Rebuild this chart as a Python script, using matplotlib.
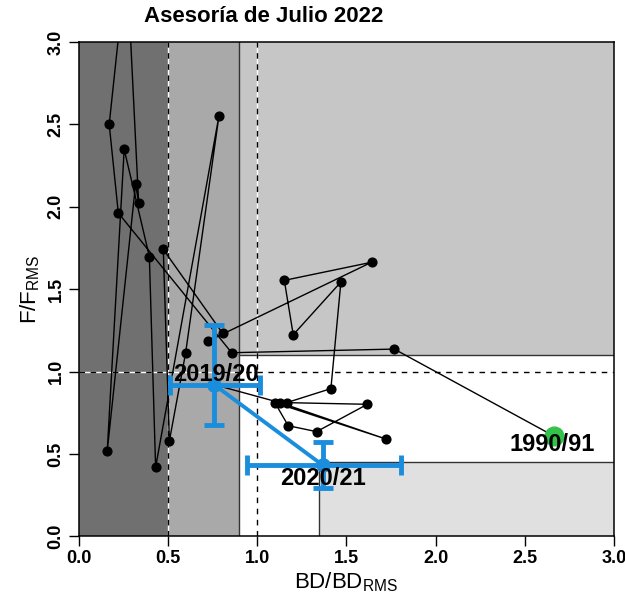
import matplotlib
matplotlib.use('Agg')
import matplotlib.pyplot as plt
from matplotlib.patches import Rectangle

plt.rcParams['font.family'] = ['Liberation Sans', 'DejaVu Sans']
plt.rcParams['mathtext.fontset'] = 'custom'
plt.rcParams['mathtext.rm'] = 'Liberation Sans'
plt.rcParams['mathtext.it'] = 'Liberation Sans:italic'
plt.rcParams['mathtext.bf'] = 'Liberation Sans:bold'

# ---- data: trajectory 1990/91 ... 2019/20 (BD/BDrms, F/Frms) ----
bd_ratio = [2.664, 1.769, 0.858, 0.223, 0.172, 0.270, 0.337, 0.320, 0.161, 0.256,
            0.397, 0.432, 0.787, 0.600, 0.509, 0.475, 0.808, 0.727, 1.642, 1.153,
            1.203, 1.470, 1.414, 1.166, 1.618, 1.334, 1.175, 1.100, 1.723, 1.129,
            0.760]
f_ratio = [0.608, 1.136, 1.114, 1.962, 2.500, 3.500, 2.021, 2.138, 0.518, 2.348,
           1.697, 0.419, 2.552, 1.112, 0.578, 1.741, 1.231, 1.185, 1.663, 1.553,
           1.223, 1.543, 0.896, 0.811, 0.801, 0.635, 0.671, 0.811, 0.590, 0.811,
           0.920]

# last two assessments with uncertainty
recent_labels = ['2019/20', '2020/21']
recent_bd = [0.760, 1.370]
recent_f = [0.920, 0.430]
recent_bd_lo = [0.513, 0.944]
recent_bd_hi = [1.017, 1.807]
recent_f_lo = [0.675, 0.293]
recent_f_hi = [1.282, 0.570]

first_label = '1990/91'

# reference points / zones
bd_lim = 0.5
bd_low = 0.9
bd_target = 1.0
bd_high = 1.35
f_low = 0.45
f_target = 1.0
f_high = 1.1
ax_max = 3.0

tick_vals = [0.0, 0.5, 1.0, 1.5, 2.0, 2.5, 3.0]

# ---- figure ----
fig = plt.figure(figsize=(6.25, 5.96), dpi=100)
ax = fig.add_axes([78.5/625, 1-536.3/596, (614-78.5)/625, (536.3-41.9)/596])
ax.set_xlim(0, ax_max)
ax.set_ylim(0, ax_max)

dark = '#707070'
mid = '#a9a9a9'
light = '#c6c6c6'
vlight = '#e0e0e0'
edge = '#333333'

ax.add_patch(Rectangle((0, 0), bd_lim, ax_max, facecolor=dark, edgecolor='none', zorder=0))
ax.add_patch(Rectangle((bd_lim, 0), bd_low - bd_lim, ax_max, facecolor=mid, edgecolor='none', zorder=0))
ax.add_patch(Rectangle((bd_low, f_high), ax_max - bd_low, ax_max - f_high, facecolor=light, edgecolor='none', zorder=0))
ax.add_patch(Rectangle((bd_low, f_low), ax_max - bd_low, f_high - f_low, facecolor='white', edgecolor='none', zorder=0))
ax.add_patch(Rectangle((bd_high, 0), ax_max - bd_high, f_low, facecolor=vlight, edgecolor='none', zorder=0))

ax.plot([bd_low, bd_low], [0, ax_max], color=edge, lw=1.0, zorder=1)
ax.plot([bd_low, ax_max], [f_high, f_high], color=edge, lw=1.0, zorder=1)
ax.plot([bd_high, ax_max], [f_low, f_low], color=edge, lw=1.0, zorder=1)
ax.plot([bd_high, bd_high], [0, f_low], color=edge, lw=1.0, zorder=1)

# dashed reference lines (white under black dashes)
for xv in (bd_lim, bd_target):
    ax.axvline(xv, color='white', lw=1.0, zorder=1.5)
    ax.axvline(xv, color='black', lw=1.0, ls=(0, (4, 4)), zorder=1.6)
ax.axhline(f_target, color='white', lw=1.0, zorder=1.5)
ax.axhline(f_target, color='black', lw=1.0, ls=(0, (4, 4)), zorder=1.6)

# trajectory
ax.plot(bd_ratio, f_ratio, color='black', lw=1.0, marker='o', ms=6.3, zorder=3)

# first year
ax.plot(bd_ratio[0], f_ratio[0], marker='o', ms=13.5, color='#33c24a', zorder=4, ls='none')
ax.text(bd_ratio[0] - 0.01, f_ratio[0] - 0.05, first_label, ha='center', va='center',
        fontsize=17, fontweight='bold', zorder=6)

# recent assessments
blue = '#1a8ddc'
ax.plot(recent_bd, recent_f, color=blue, lw=2.8, zorder=4)
xerr = [[b - lo for b, lo in zip(recent_bd, recent_bd_lo)], [hi - b for b, hi in zip(recent_bd, recent_bd_hi)]]
yerr = [[v - lo for v, lo in zip(recent_f, recent_f_lo)], [hi - v for v, hi in zip(recent_f, recent_f_hi)]]
ax.errorbar(recent_bd, recent_f, xerr=xerr, yerr=yerr, fmt='o', color=blue, ms=9.5,
            elinewidth=3.5, capsize=7, capthick=3.5, zorder=4.5)
ax.text(recent_bd[0] + 0.01, recent_f[0] + 0.06, recent_labels[0], ha='center', va='center',
        fontsize=17, fontweight='bold', zorder=6)
ax.text(recent_bd[1], recent_f[1] - 0.08, recent_labels[1], ha='center', va='center',
        fontsize=17, fontweight='bold', zorder=6)

# axes styling
ax.set_xticks(tick_vals)
ax.set_yticks(tick_vals)
ax.set_xticklabels([f'{v:.1f}' for v in tick_vals], fontweight='bold', fontsize=13)
ax.set_yticklabels([f'{v:.1f}' for v in tick_vals], fontweight='bold', fontsize=13,
                   rotation=90, va='center')
ax.tick_params(direction='out', length=7, width=1.0, pad=3)
for s in ax.spines.values():
    s.set_linewidth(1.1)
    s.set_zorder(7)

ax.set_xlabel(r'$\mathregular{BD/BD_{RMS}}$', fontsize=16, labelpad=2)
ax.set_ylabel(r'$\mathregular{F/F_{RMS}}$', fontsize=16, labelpad=4)

fig.text(264/625, 1-17/596, 'Asesoría de Julio 2022', ha='center', va='center',
         fontsize=16, fontweight='bold')

fig.savefig('out.png', dpi=100)
